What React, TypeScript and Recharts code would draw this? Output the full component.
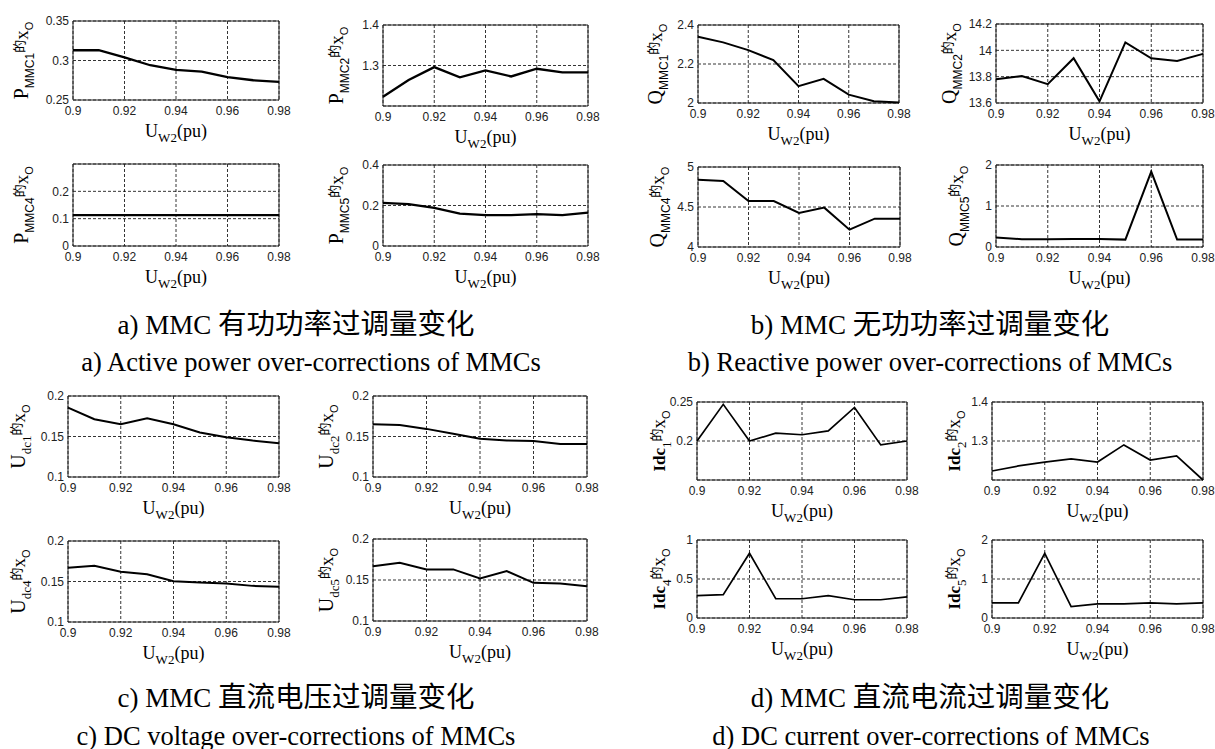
import React from 'react';
import { LineChart, Line, XAxis, YAxis, CartesianGrid, ReferenceArea } from 'recharts';

// ---------- data ----------
const uw2 = [0.9, 0.91, 0.92, 0.93, 0.94, 0.95, 0.96, 0.97, 0.98];
const xTicks = [0.9, 0.92, 0.94, 0.96, 0.98];

const pMMC1 = [0.313, 0.313, 0.304, 0.294, 0.288, 0.286, 0.279, 0.275, 0.273];
const pMMC2 = [1.223, 1.264, 1.296, 1.271, 1.288, 1.273, 1.292, 1.283, 1.283];
const pMMC4 = [0.113, 0.113, 0.113, 0.113, 0.113, 0.113, 0.113, 0.113, 0.113];
const pMMC5 = [0.213, 0.207, 0.188, 0.16, 0.152, 0.152, 0.157, 0.152, 0.165];

const qMMC1 = [2.34, 2.311, 2.271, 2.22, 2.086, 2.124, 2.043, 2.009, 2.003];
const qMMC2 = [13.781, 13.804, 13.743, 13.94, 13.613, 14.06, 13.94, 13.919, 13.973];
const qMMC4 = [4.842, 4.825, 4.575, 4.575, 4.425, 4.492, 4.217, 4.354, 4.354];
const qMMC5 = [0.229, 0.19, 0.19, 0.196, 0.196, 0.18, 1.837, 0.18, 0.18];

const udc1 = [0.1857, 0.1713, 0.1652, 0.1725, 0.1652, 0.155, 0.149, 0.145, 0.1418];
const udc2 = [0.1652, 0.1643, 0.1594, 0.1533, 0.1471, 0.145, 0.1443, 0.1406, 0.1406];
const udc4 = [0.1669, 0.1694, 0.162, 0.159, 0.1504, 0.1488, 0.1475, 0.1446, 0.1434];
const udc5 = [0.1669, 0.171, 0.1629, 0.1629, 0.1518, 0.1608, 0.1465, 0.1457, 0.1424];

const idc1 = [0.2, 0.247, 0.2, 0.21, 0.208, 0.213, 0.243, 0.195, 0.2];
const idc2 = [1.223, 1.236, 1.246, 1.254, 1.246, 1.29, 1.251, 1.262, 1.2];
const idc4 = [0.286, 0.3, 0.83, 0.247, 0.247, 0.286, 0.234, 0.234, 0.27];
const idc5 = [0.39, 0.39, 1.66, 0.29, 0.36, 0.36, 0.39, 0.36, 0.39];

const captionPrefix = ['a) MMC ', 'b) MMC ', 'c) MMC ', 'd) MMC '];
const captionsCn = ['有功功率过调量变化', '无功功率过调量变化', '直流电压过调量变化', '直流电流过调量变化'];
const captionsEn = ['a) Active power over-corrections of MMCs', 'b) Reactive power over-corrections of MMCs', 'c) DC voltage over-corrections of MMCs', 'd) DC current over-corrections of MMCs'];

// ---------- layout ----------
type Kind = 'PQ' | 'U' | 'I';
interface Spec {
  values: number[];
  dom: [number, number];
  ticks: number[];
  box: [number, number, number, number]; // left, top, right, bottom
  main: string;
  sub: string;
  kind: Kind;
  off: number;
  sw: number;
}

const specs: Spec[] = [
  { values: pMMC1, dom: [0.25, 0.35], ticks: [0.25, 0.3, 0.35], box: [73, 21, 279, 100], main: 'P', sub: 'MMC1', kind: 'PQ', off: 45, sw: 2.3 },
  { values: pMMC2, dom: [1.2, 1.4], ticks: [1.3, 1.4], box: [383, 25, 588, 106], main: 'P', sub: 'MMC2', kind: 'PQ', off: 40, sw: 2.3 },
  { values: pMMC4, dom: [0, 0.3], ticks: [0, 0.1, 0.2], box: [73, 164, 279, 246], main: 'P', sub: 'MMC4', kind: 'PQ', off: 45, sw: 2.3 },
  { values: pMMC5, dom: [0, 0.4], ticks: [0, 0.2, 0.4], box: [383, 165, 588, 246], main: 'P', sub: 'MMC5', kind: 'PQ', off: 40, sw: 2.3 },
  { values: qMMC1, dom: [2, 2.4], ticks: [2, 2.2, 2.4], box: [698, 25, 899, 103], main: 'Q', sub: 'MMC1', kind: 'PQ', off: 36, sw: 2 },
  { values: qMMC2, dom: [13.6, 14.2], ticks: [13.6, 13.8, 14, 14.2], box: [996, 24, 1203, 103], main: 'Q', sub: 'MMC2', kind: 'PQ', off: 40, sw: 2 },
  { values: qMMC4, dom: [4, 5], ticks: [4, 4.5, 5], box: [698, 167, 900, 247], main: 'Q', sub: 'MMC4', kind: 'PQ', off: 34, sw: 2 },
  { values: qMMC5, dom: [0, 2], ticks: [0, 1, 2], box: [996, 165, 1203, 247], main: 'Q', sub: 'MMC5', kind: 'PQ', off: 33, sw: 2 },
  { values: udc1, dom: [0.1, 0.2], ticks: [0.1, 0.15, 0.2], box: [68, 396, 279, 477], main: 'U', sub: 'dc1', kind: 'U', off: 43, sw: 2 },
  { values: udc2, dom: [0.1, 0.2], ticks: [0.1, 0.15, 0.2], box: [373, 396, 587, 477], main: 'U', sub: 'dc2', kind: 'U', off: 40, sw: 2 },
  { values: udc4, dom: [0.1, 0.2], ticks: [0.1, 0.15, 0.2], box: [68, 541, 279, 622], main: 'U', sub: 'dc4', kind: 'U', off: 43, sw: 2 },
  { values: udc5, dom: [0.1, 0.2], ticks: [0.1, 0.15, 0.2], box: [373, 539, 587, 621], main: 'U', sub: 'dc5', kind: 'U', off: 40, sw: 2 },
  { values: idc1, dom: [0.15, 0.25], ticks: [0.2, 0.25], box: [697, 402, 907, 480], main: 'Idc', sub: '1', kind: 'I', off: 32, sw: 1.7 },
  { values: idc2, dom: [1.2, 1.4], ticks: [1.3, 1.4], box: [992, 402, 1203, 480], main: 'Idc', sub: '2', kind: 'I', off: 32, sw: 1.7 },
  { values: idc4, dom: [0, 1], ticks: [0, 0.5, 1], box: [697, 540, 907, 618], main: 'Idc', sub: '4', kind: 'I', off: 32, sw: 1.7 },
  { values: idc5, dom: [0, 2], ticks: [0, 1, 2], box: [992, 540, 1203, 618], main: 'Idc', sub: '5', kind: 'I', off: 32, sw: 1.7 },
];

const SERIF = "'Liberation Serif','Times New Roman',serif";
const SANS = "'Liberation Sans',Arial,sans-serif";
const CJK = "'Noto Sans CJK SC',sans-serif";

const PAD_L = 70, PAD_T = 25, PAD_R = 25, PAD_B = 45;

function Panel({ s }: { s: Spec }) {
  const [l, t, r, b] = s.box;
  const W = r - l;
  const H = b - t;
  const data = uw2.map((x, i) => ({ x, y: s.values[i] }));
  const bx = PAD_L - s.off;
  const cy = PAD_T + H / 2;
  const cx = PAD_L + W / 2;
  const by = PAD_T + H + 37;
  const isI = s.kind === 'I';
  const yLabel = () => (
    <text x={bx} y={cy} transform={`rotate(-90 ${bx} ${cy})`} textAnchor="middle" fill="#000">
      <tspan fontFamily={SERIF} fontSize={isI ? 17 : 20} fontWeight={isI ? 'bold' : 'normal'}>{s.main}</tspan>
      <tspan fontFamily={s.kind === 'PQ' ? SANS : SERIF} fontSize={s.kind === 'PQ' ? 12 : 13} dy={6}>{s.sub}</tspan>
      <tspan fontFamily={CJK} fontSize={13} dy={-10}>的</tspan>
      <tspan fontFamily={SERIF} fontSize={19} dy={4}>x</tspan>
      <tspan fontFamily={SANS} fontSize={11} dy={5}>O</tspan>
    </text>
  );
  const xLabel = () => (
    <text x={cx} y={by} textAnchor="middle" fill="#000" fontFamily={SERIF}>
      <tspan fontSize={18}>U</tspan>
      <tspan fontSize={13} dy={5}>W2</tspan>
      <tspan fontSize={18} dy={-5}>(pu)</tspan>
    </text>
  );
  const tickStyle = { fontSize: 12, fill: '#222', fontFamily: SANS };
  return (
    <div style={{ position: 'absolute', left: l - PAD_L, top: t - PAD_T }}>
      <LineChart width={PAD_L + W + PAD_R} height={PAD_T + H + PAD_B} data={data}
        margin={{ top: PAD_T, right: PAD_R, left: 0, bottom: 0 }}>
        <CartesianGrid stroke="#000" strokeDasharray="3 2" strokeWidth={0.8} />
        <XAxis dataKey="x" type="number" domain={[0.9, 0.98]} ticks={xTicks} interval={0}
          tickLine={false} axisLine={false} tickSize={4} tickMargin={2} height={PAD_B}
          tick={tickStyle} label={{ content: xLabel }} />
        <YAxis type="number" domain={s.dom} ticks={s.ticks} interval={0} width={PAD_L}
          tickLine={false} axisLine={false} tickSize={2} tickMargin={2}
          tick={tickStyle} label={{ content: yLabel }} />
        <ReferenceArea x1={0.9} x2={0.98} y1={s.dom[0]} y2={s.dom[1]} fill="none" fillOpacity={0}
          stroke="#222" strokeWidth={1} />
        <Line type="linear" dataKey="y" stroke="#000" strokeWidth={s.sw} dot={false} isAnimationActive={false} />
      </LineChart>
    </div>
  );
}

const capCenters: [number, number, number, number][] = [
  // cx1, cy1, cx2, cy2
  [296, 322, 311, 362],
  [930, 322, 930, 362],
  [296, 695, 296, 736],
  [930, 695, 931, 736],
];

export default function App() {
  return (
    <div style={{ position: 'absolute', left: 0, top: 0, width: 1215, height: 749, background: '#fff', overflow: 'hidden' }}>
      {specs.map((s, i) => <Panel key={i} s={s} />)}
      {capCenters.map((c, i) => (
        <React.Fragment key={i}>
          <div style={{ position: 'absolute', left: c[0] - 300, top: c[1] - 16, width: 600, height: 32, lineHeight: '32px', textAlign: 'center', color: '#000', whiteSpace: 'nowrap' }}>
            <span style={{ fontFamily: SERIF, fontSize: 27 }}>{captionPrefix[i]}</span>
            <span style={{ fontFamily: CJK, fontSize: 28.5 }}>{captionsCn[i]}</span>
          </div>
          <div style={{ position: 'absolute', left: c[2] - 300, top: c[3] - 16, width: 600, height: 32, lineHeight: '32px', textAlign: 'center', fontSize: 26.5, fontFamily: SERIF, color: '#000', whiteSpace: 'nowrap' }}>{captionsEn[i]}</div>
        </React.Fragment>
      ))}
    </div>
  );
}
